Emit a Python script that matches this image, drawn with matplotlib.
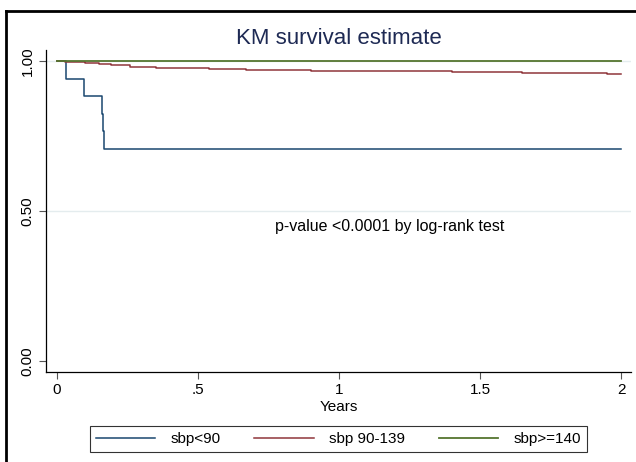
import matplotlib.pyplot as plt
from matplotlib.lines import Line2D

plt.rcParams['font.family'] = ['Liberation Sans', 'DejaVu Sans']

# KM step data (time in years, survival)
t_low = [0, 0.032, 0.095, 0.158, 0.163, 0.168, 2.0]
s_low = [1.0, 0.941, 0.882, 0.824, 0.765, 0.706, 0.706]

t_mid = [0, 0.03, 0.06, 0.10, 0.15, 0.19, 0.26, 0.35, 0.45, 0.54, 0.67,
         0.80, 0.90, 1.05, 1.18, 1.40, 1.61, 1.65, 1.80, 1.95, 2.0]
s_mid = [1.0, 0.998, 0.996, 0.993, 0.990, 0.987, 0.980, 0.977, 0.975, 0.974, 0.971,
         0.969, 0.967, 0.967, 0.965, 0.964, 0.962, 0.961, 0.960, 0.957, 0.957]

t_high = [0, 2.0]
s_high = [1.0, 1.0]

labels = ['sbp<90', 'sbp 90-139', 'sbp>=140']
colors = ['#1a476f', '#90353b', '#55752f']

fig = plt.figure(figsize=(6.36, 4.62), dpi=100)
ax = fig.add_axes([0.0723, 0.195, 0.92, 0.697])

ax.axhline(0.5, color='#e4ecee', lw=1, zorder=0)
ax.axhline(1.0, color='#e4ecee', lw=1, zorder=0)

ax.step(t_low, s_low, where='post', color=colors[0], lw=1.1, label=labels[0])
ax.step(t_mid, s_mid, where='post', color=colors[1], lw=1.1, label=labels[1])
ax.step(t_high, s_high, where='post', color=colors[2], lw=1.3, label=labels[2])

ax.set_xlim(-0.039, 2.035)
ax.set_ylim(-0.037, 1.037)
ax.set_xticks([0, 0.5, 1, 1.5, 2])
ax.set_xticklabels(['0', '.5', '1', '1.5', '2'])
ax.set_yticks([0, 0.5, 1])
ax.set_yticklabels(['0.00', '0.50', '1.00'], rotation=90, va='center')
ax.tick_params(direction='out', length=5, width=0.8, color='#555555',
               labelsize=11, pad=3)
for s in ['top', 'right']:
    ax.spines[s].set_visible(False)
for s in ['left', 'bottom']:
    ax.spines[s].set_linewidth(0.9)

ax.set_xlabel('Years', fontsize=11, labelpad=2.5)
ax.set_title('KM survival estimate', fontsize=16, color='#1e2a54', pad=4)
ax.text(0.772, 0.472, 'p-value <0.0001 by log-rank test', fontsize=11.5,
        va='top', ha='left')

leg = fig.legend(loc='center', bbox_to_anchor=(0.532, 0.05), ncol=3,
                 fontsize=11, frameon=True, fancybox=False, edgecolor='black',
                 handlelength=3.9, columnspacing=2.2, borderpad=0.4,
                 handletextpad=1.0)
leg.get_frame().set_linewidth(0.8)

# outer frame (top and left edges visible)
fig.add_artist(Line2D([0.009, 1.0], [0.977, 0.977], color='black', lw=2,
                      transform=fig.transFigure))
fig.add_artist(Line2D([0.009, 0.009], [0.0, 0.977], color='black', lw=2,
                      transform=fig.transFigure))

fig.savefig('out.png', dpi=100)
